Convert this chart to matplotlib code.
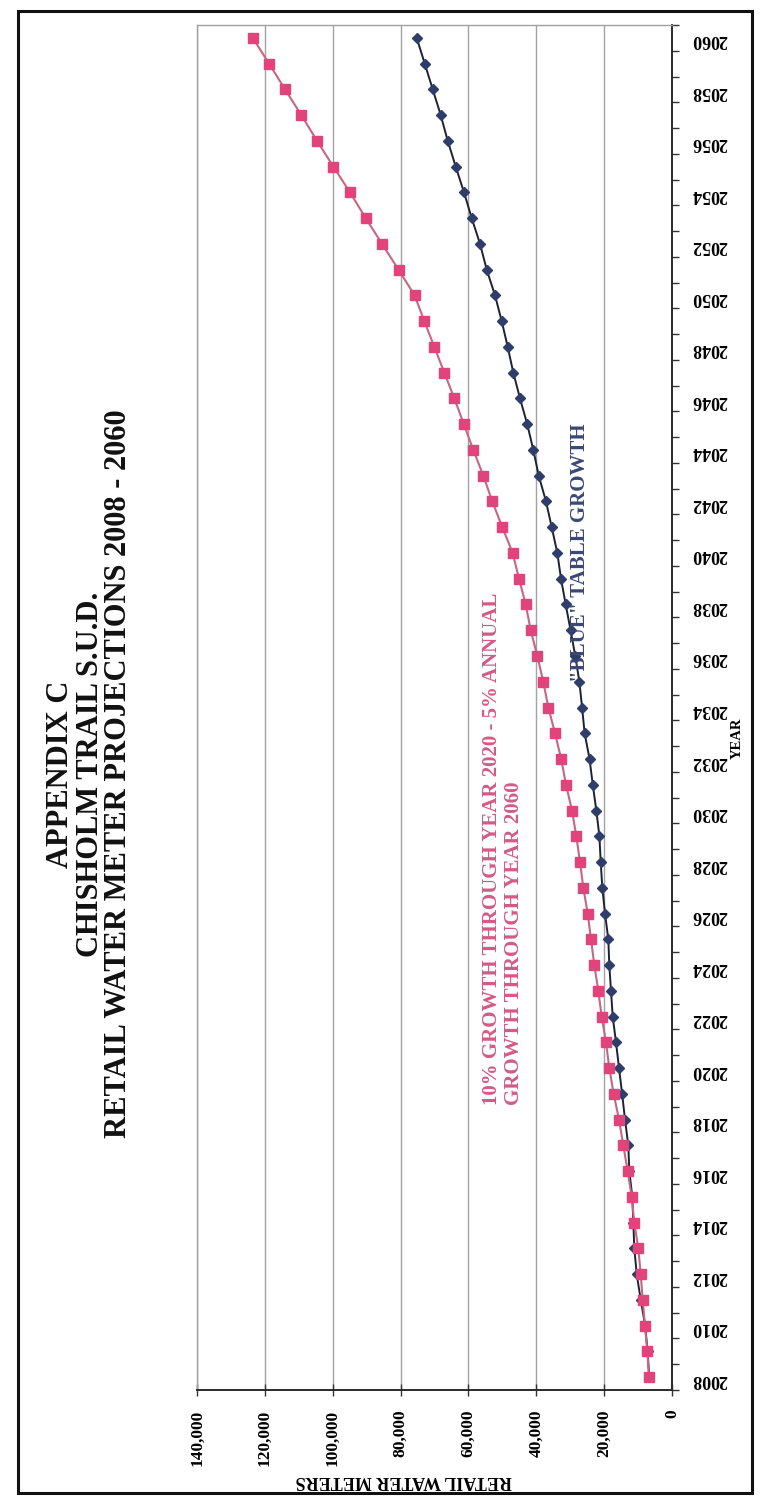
import matplotlib
matplotlib.use('Agg')
import matplotlib.pyplot as plt
from matplotlib.patches import Rectangle
from matplotlib.ticker import FixedLocator, FuncFormatter

# ---------------- data ----------------
years = list(range(2008, 2061))

pink_values = [6780, 7280, 7960, 8640, 9220, 9930, 11110, 11880, 13060, 14350,
               15620, 17200, 18480, 19450, 20720, 21720, 22900, 23870, 24840, 26140,
               27110, 28200, 29470, 31240, 32650, 34480, 36450, 37930, 39700, 41640,
               43110, 45090, 46950, 50010, 52960, 55610, 58560, 61350, 64150, 67100,
               70050, 73000, 75840, 80600, 85460, 90270, 94900, 99800, 104620, 109240,
               114050, 118760, 123570]

blue_values = [6700, 7200, 7900, 9220, 10400, 11110, 11400, 11700, 12580, 12880,
               13850, 14700, 15620, 16500, 17480, 17980, 18480, 18770, 19740, 20540,
               21010, 21400, 22300, 23350, 24300, 25750, 26500, 27300, 28500, 29900,
               31330, 32710, 33800, 35450, 37130, 39280, 40870, 42670, 44790, 46770,
               48420, 50190, 52160, 54610, 56580, 59030, 61300, 63740, 66100, 68160,
               70520, 72880, 75240]

value_ticks = [0, 20000, 40000, 60000, 80000, 100000, 120000, 140000]
year_ticks = list(range(2008, 2061, 2))

title_text = "APPENDIX C\nCHISHOLM TRAIL S.U.D.\nRETAIL WATER METER PROJECTIONS 2008 - 2060"
pink_label = "10% GROWTH THROUGH YEAR 2020 - 5% ANNUAL\nGROWTH THROUGH YEAR 2060"
blue_label = '"BLUE" TABLE GROWTH'

# ---------------- figure ----------------
W, H = 760, 1504
SERIF = ['Liberation Serif', 'DejaVu Serif']
fig = plt.figure(figsize=(W / 100, H / 100), dpi=100)
fig.patch.set_facecolor('white')

ax_l, ax_r, ax_t, ax_b = 197, 672, 25, 1390
ax = fig.add_axes([ax_l / W, 1 - ax_b / H, (ax_r - ax_l) / W, (ax_b - ax_t) / H])

ax.set_xlim(140000, 0)
ax.set_ylim(2007.5, 2060.5)

for v in value_ticks:
    ax.axvline(v, color='#a3a3a3', lw=1.0, zorder=1)

ax.plot(blue_values, years, color='#1c2136', lw=1.4, marker='D', ms=5.5,
        mfc='#2f3d6a', mec='#2f3d6a', zorder=3)
ax.plot(pink_values, years, color='#c76682', lw=1.5, marker='s', ms=7.5,
        mfc='#e0447b', mec='#e0447b', zorder=4)

# year axis (right side)
ax.yaxis.tick_right()
ax.yaxis.set_major_locator(FixedLocator(year_ticks))
ax.yaxis.set_minor_locator(FixedLocator([y + 0.5 for y in range(2007, 2061)]))
ax.tick_params(axis='y', which='major', length=0, pad=14)
ax.tick_params(axis='y', which='minor', length=5, direction='out', color='#333333', width=1)
for lab in ax.get_yticklabels():
    lab.set_rotation(180)
    lab.set_fontfamily(SERIF)
    lab.set_fontweight('bold')
    lab.set_fontsize(13)

# value axis (bottom)
ax.xaxis.set_major_locator(FixedLocator(value_ticks))
ax.xaxis.set_major_formatter(FuncFormatter(lambda v, p: f"{int(v):,}"))
ax.tick_params(axis='x', which='major', length=8, direction='inout', color='#333333', width=1, pad=10)
for lab in ax.get_xticklabels():
    lab.set_rotation(90)
    lab.set_fontfamily(SERIF)
    lab.set_fontweight('bold')
    lab.set_fontsize(12.5)

for side in ['top', 'left']:
    ax.spines[side].set_color('#a0a0a0')
    ax.spines[side].set_linewidth(1.0)
for side in ['right', 'bottom']:
    ax.spines[side].set_color('#2a2a2a')
    ax.spines[side].set_linewidth(1.4)

# axis titles
fig.text(404 / W, 1 - 1480 / H, 'RETAIL WATER METERS', rotation=180, ha='center', va='center',
         fontfamily=SERIF, fontweight='bold', fontsize=13)
fig.text(737 / W, 1 - 738 / H, 'YEAR', rotation=90, ha='center', va='center',
         fontfamily=SERIF, fontweight='bold', fontsize=10.5)

# chart title
fig.text(90 / W, 1 - 774 / H, title_text, rotation=90, ha='center', va='center',
         multialignment='center', fontfamily=SERIF, fontweight='bold', fontsize=22,
         linespacing=1.0, color='#111111')

# series annotations
fig.text(503 / W, 1 - 1105 / H, pink_label, rotation=90, ha='center', va='bottom',
         multialignment='left', fontfamily=SERIF, fontweight='bold', fontsize=15,
         linespacing=1.1, color='#d45a82')
fig.text(580 / W, 1 - 682 / H, blue_label, rotation=90, ha='center', va='bottom',
         fontfamily=SERIF, fontweight='bold', fontsize=15, color='#3b4876')

# outer page border
fig.patches.append(Rectangle((18 / W, 1 - 1493 / H), (752 - 18) / W, (1493 - 11) / H,
                             transform=fig.transFigure, fill=False, lw=2.2,
                             edgecolor='#111111'))

fig.savefig('out.png', dpi=100, facecolor='white')
